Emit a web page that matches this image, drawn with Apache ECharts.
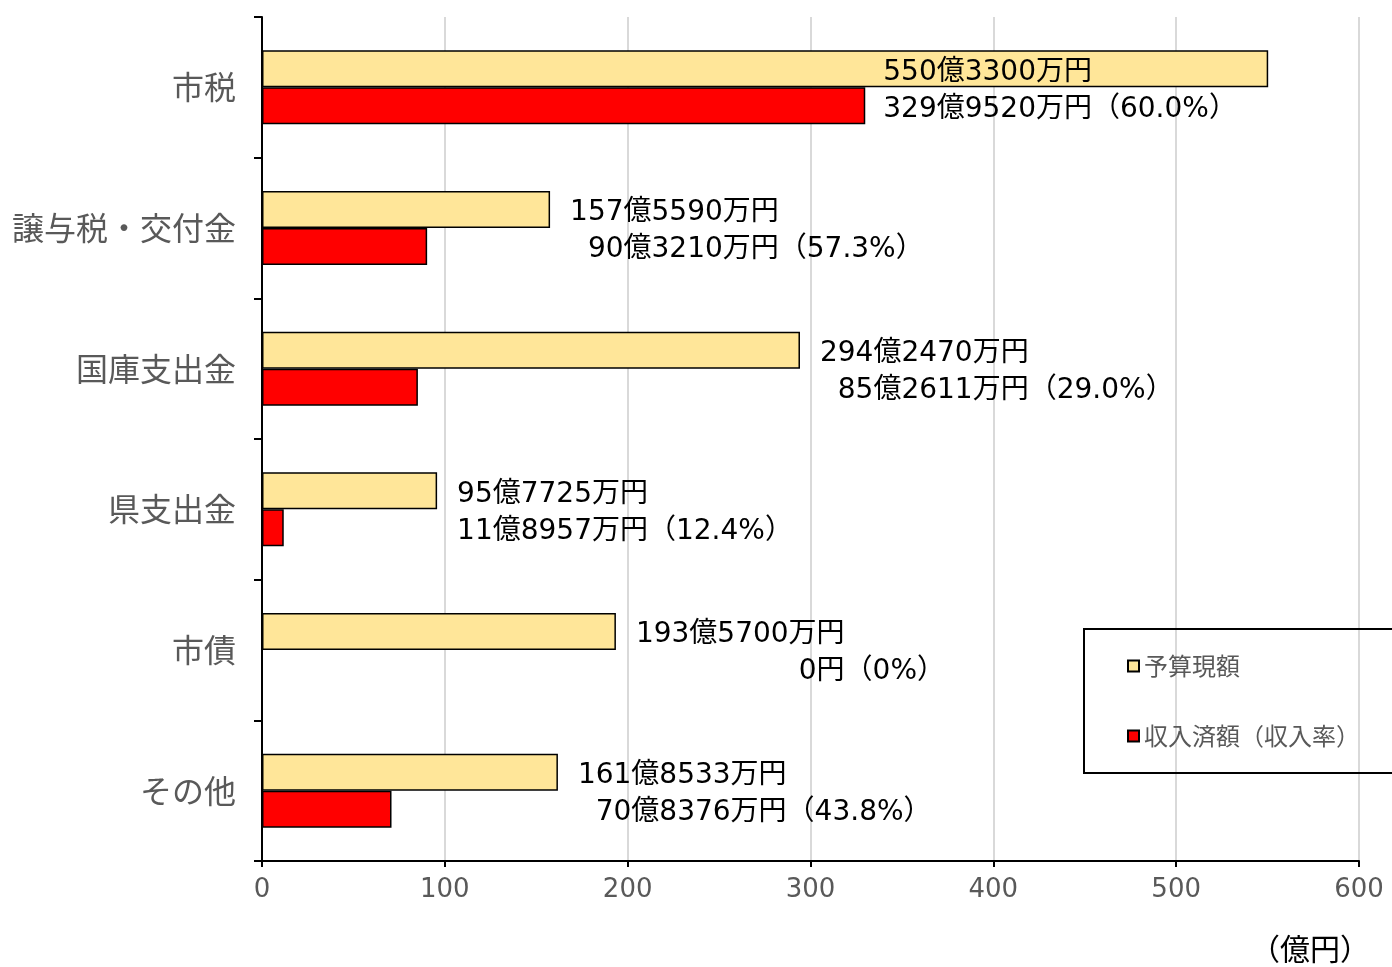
<!DOCTYPE html>
<html>
<head>
<meta charset="utf-8">
<script src="https://cdn.jsdelivr.net/npm/echarts@6/dist/echarts.min.js"></script>
<style>
html, body { margin: 0; padding: 0; background: #fff; }
#chart { width: 1392px; height: 967px; }
</style>
</head>
<body>
<div id="chart"></div>
<script>
// Revenue items (top to bottom)
const categories = ['市税', '譲与税・交付金', '国庫支出金', '県支出金', '市債', 'その他'];
// Amounts in 万円
const budget = [5503300, 1575590, 2942470, 957725, 1935700, 1618533];
const received = [3299520, 903210, 852611, 118957, 0, 708376];
// Collection rate (%)
const rates = ['60.0', '57.3', '29.0', '12.4', '0', '43.8'];
const xTicks = [0, 100, 200, 300, 400, 500, 600];
const seriesNames = ['予算現額', '収入済額（収入率）'];
const unitLabel = '（億円）';

const LABEL_FAMILY = '"DejaVu Sans", "Noto Sans CJK JP", sans-serif';
const LABEL_SIZE = 28;
const CJK_FAMILY = '"Noto Sans CJK JP", sans-serif';

// 万円 -> "X億Y万円"
function yen(v) {
  if (v === 0) return '0円';
  const oku = Math.floor(v / 10000), man = v % 10000;
  return (oku ? oku + '億' : '') + (man ? man + '万円' : '円');
}

const ctx = document.createElement('canvas').getContext('2d');
ctx.font = 'normal normal ' + LABEL_SIZE + 'px ' + LABEL_FAMILY;
function measure(t) { return ctx.measureText(t).width; }

// Two-line label: budget on the first line, received amount + rate on the second,
// with the "万円" ends aligned on the right.
function twoLineLabel(i) {
  const t1 = yen(budget[i]);
  const t2 = yen(received[i]);
  const w1 = measure(t1), w2 = measure(t2);
  const W = Math.max(w1, w2);
  const base = { fontSize: LABEL_SIZE, fontFamily: LABEL_FAMILY, lineHeight: 37, color: '#000' };
  return {
    formatter: '{s1| }{t|' + t1 + '}\n{s2| }{t|' + t2 + '}{t|（' + rates[i] + '%）}',
    rich: {
      s1: Object.assign({}, base, { width: W - w1 }),
      s2: Object.assign({}, base, { width: W - w2 }),
      t: base
    }
  };
}

// The first item's label sits next to the received bar; the others next to the budget bar.
const budgetData = budget.map((v, i) => {
  const item = { value: v / 10000 };
  if (i === 0) item.label = { show: false };
  else item.label = Object.assign({ show: true, position: 'right', distance: 20, offset: [0, 22] }, twoLineLabel(i));
  return item;
});
const receivedData = received.map((v, i) => {
  const item = { value: v / 10000 };
  if (i === 0) item.label = Object.assign({ show: true, position: 'right', distance: 18, offset: [0, -15] }, twoLineLabel(i));
  else item.label = { show: false };
  return item;
});

const chart = echarts.init(document.getElementById('chart'));
chart.setOption({
  animation: false,
  backgroundColor: '#fff',
  grid: { left: 262, right: 33, top: 17, bottom: 106, containLabel: false },
  xAxis: {
    type: 'value',
    min: xTicks[0],
    max: xTicks[xTicks.length - 1],
    interval: xTicks[1] - xTicks[0],
    axisLine: { show: true, lineStyle: { color: '#000', width: 2 } },
    axisTick: { show: true, length: 6, lineStyle: { color: '#000', width: 2 } },
    splitLine: { show: true, lineStyle: { color: '#d9d9d9', width: 2 } },
    axisLabel: { fontSize: 26, color: '#595959', fontFamily: LABEL_FAMILY, margin: 16 }
  },
  yAxis: {
    type: 'category',
    inverse: true,
    data: categories,
    axisLine: { show: true, lineStyle: { color: '#000', width: 2 } },
    axisTick: { show: true, length: 8, lineStyle: { color: '#000', width: 2 } },
    axisLabel: { fontSize: 32, color: '#595959', fontFamily: CJK_FAMILY, margin: 26 }
  },
  legend: {
    orient: 'vertical',
    left: 1084,
    top: 629,
    padding: [25, 90, 25, 43],
    itemGap: 46,
    itemWidth: 11,
    itemHeight: 11,
    icon: 'rect',
    borderColor: '#000',
    borderWidth: 2,
    data: seriesNames,
    textStyle: { fontSize: 24, color: '#595959', fontFamily: CJK_FAMILY }
  },
  graphic: [{
    type: 'text',
    right: 22,
    top: 934,
    style: { text: unitLabel, fontSize: 30, fill: '#000', fontFamily: CJK_FAMILY }
  }],
  series: [
    {
      name: seriesNames[0],
      type: 'bar',
      data: budgetData,
      barWidth: 37,
      barGap: '0%',
      itemStyle: { color: '#FFE699', borderColor: '#000', borderWidth: 1.5 },
      label: { color: '#000' }
    },
    {
      name: seriesNames[1],
      type: 'bar',
      data: receivedData,
      barWidth: 37,
      barGap: '0%',
      itemStyle: { color: '#FF0000', borderColor: '#000', borderWidth: 1.5 },
      label: { color: '#000' }
    }
  ]
});
</script>
</body>
</html>
